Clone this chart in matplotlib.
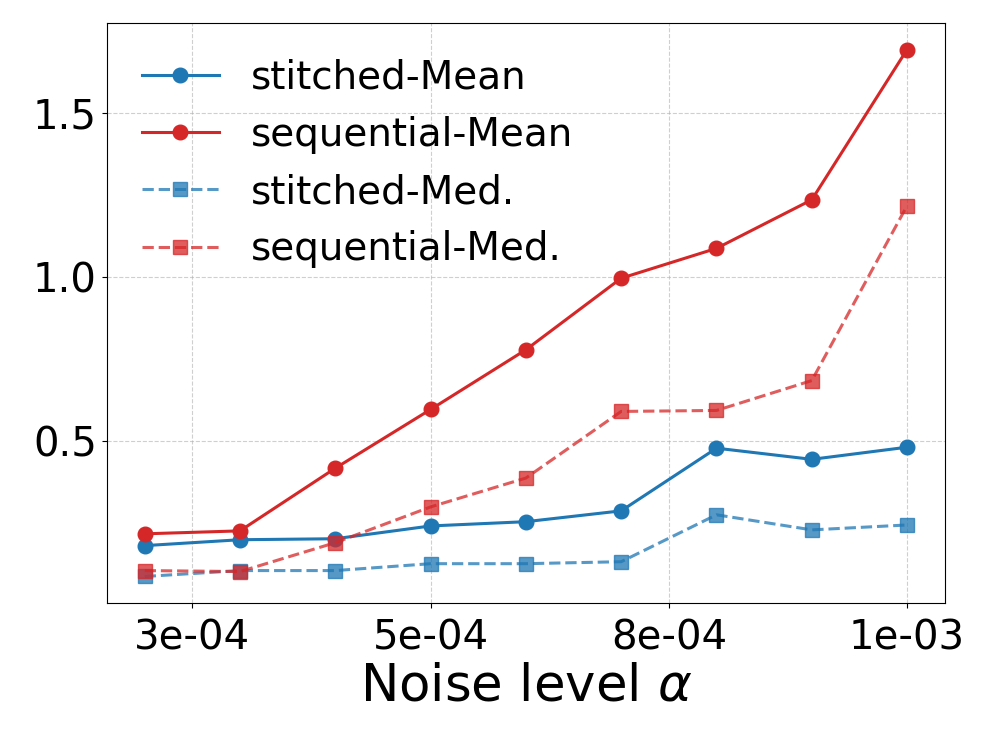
import numpy as np
import matplotlib.pyplot as plt

# noise levels
alpha = [2e-4, 3e-4, 4e-4, 5e-4, 6e-4, 7e-4, 8e-4, 9e-4, 1e-3]
xticks = [2.5e-4, 5e-4, 7.5e-4, 1e-3]
xtick_labels = ['3e-04', '5e-04', '8e-04', '1e-03']

stitched_mean = [0.182, 0.200, 0.203, 0.242, 0.255, 0.288, 0.479, 0.445, 0.482]
sequential_mean = [0.218, 0.227, 0.418, 0.597, 0.779, 0.997, 1.088, 1.236, 1.694]
stitched_med = [0.088, 0.106, 0.106, 0.127, 0.127, 0.133, 0.276, 0.230, 0.245]
sequential_med = [0.106, 0.103, 0.191, 0.300, 0.388, 0.591, 0.594, 0.685, 1.218]

blue = '#1f77b4'
red = '#d62728'

fig = plt.figure(figsize=(9.96, 7.47), dpi=100)
ax = fig.add_axes([0.107, 0.193, 0.842, 0.776])

ax.plot(alpha, stitched_mean, color=blue, marker='o', lw=2.2, ms=10.5, label='stitched-Mean')
ax.plot(alpha, sequential_mean, color=red, marker='o', lw=2.2, ms=10.5, label='sequential-Mean')
ax.plot(alpha, stitched_med, color=blue, marker='s', ls='--', lw=2.2, ms=10, alpha=0.75, label='stitched-Med.')
ax.plot(alpha, sequential_med, color=red, marker='s', ls='--', lw=2.2, ms=10, alpha=0.75, label='sequential-Med.')

ax.grid(True, ls='--', color='#b0b0b0', alpha=0.6)
ax.set_xticks(xticks)
ax.set_xticklabels(xtick_labels)
ax.tick_params(labelsize=29)
ax.tick_params(axis='x', pad=8)
ax.set_yticks([0.5, 1.0, 1.5])
ax.set_xlabel(r'Noise level $\alpha$', fontsize=37, labelpad=2)
ax.legend(loc='upper left', fontsize=28, frameon=False)

plt.savefig('out.png')
